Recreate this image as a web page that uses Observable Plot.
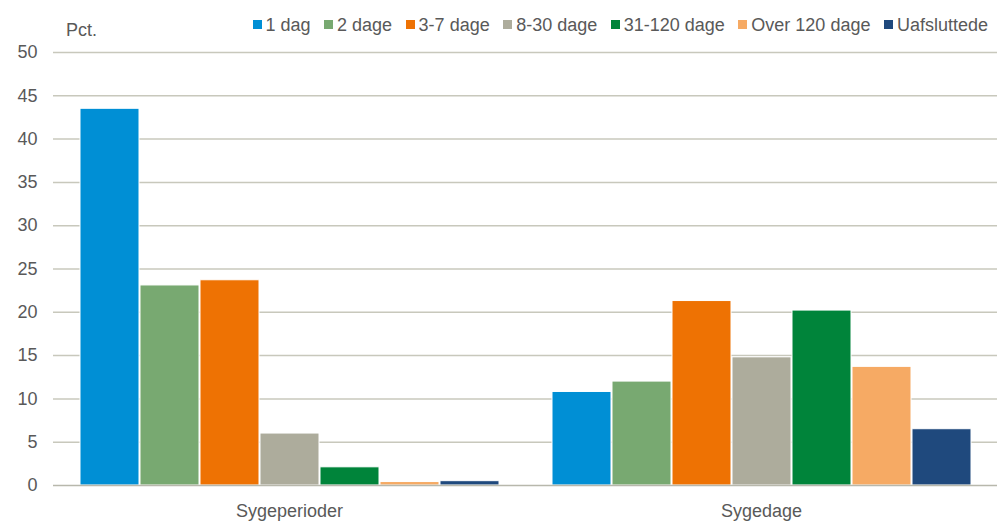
<!DOCTYPE html>
<html><head><meta charset="utf-8">
<script src="https://cdn.jsdelivr.net/npm/d3@7"></script>
<script src="https://cdn.jsdelivr.net/npm/@observablehq/plot@0.6"></script>
<style>
body{margin:0;background:#fff;font-family:"Liberation Sans",Arial,sans-serif;}
#wrap{position:relative;width:998px;height:523px;}
#legend{position:absolute;top:15px;right:10px;display:flex;gap:13.5px;font-size:18px;color:#595959;white-space:nowrap;}
#legend span.sw{display:inline-block;width:9px;height:9px;margin-right:4px;vertical-align:middle;position:relative;top:-2px;}
#ylab{position:absolute;left:66px;top:20px;font-size:18px;color:#595959;}
</style></head>
<body><div id="wrap"><div id="legend"></div><div id="ylab"></div><div id="chart"></div></div>
<script>
const groups = ["Sygeperioder", "Sygedage"];
const series = ["1 dag", "2 dage", "3-7 dage", "8-30 dage", "31-120 dage", "Over 120 dage", "Uafsluttede"];
const colors = ["#008fd5", "#78a971", "#ee7203", "#adac9c", "#00843a", "#f6aa64", "#1f497d"];
const sygeperioder = [43.5, 23.1, 23.7, 6.0, 2.1, 0.4, 0.5];
const sygedage = [10.8, 12.0, 21.3, 14.8, 20.2, 13.7, 6.5];
const yTicks = [0, 5, 10, 15, 20, 25, 30, 35, 40, 45, 50];
const yLabel = "Pct.";

const data = [];
series.forEach((s, i) => {
  data.push({group: groups[0], series: s, value: sygeperioder[i]});
  data.push({group: groups[1], series: s, value: sygedage[i]});
});

const legend = document.getElementById("legend");
series.forEach((s, i) => {
  const d = document.createElement("div");
  d.innerHTML = `<span class="sw" style="background:${colors[i]}"></span>${s}`;
  legend.appendChild(d);
});
document.getElementById("ylab").textContent = yLabel;

const chart = Plot.plot({
  width: 998,
  height: 523,
  marginTop: 52,
  marginBottom: 38,
  marginLeft: 53,
  marginRight: 1,
  style: {fontFamily: "Liberation Sans, Arial, sans-serif", fontSize: "18px", color: "#595959", background: "#fff"},
  fx: {domain: groups, padding: 0, label: null},
  x: {domain: series, paddingInner: 0.025, paddingOuter: 0.4, axis: null},
  y: {domain: [0, 50], ticks: yTicks, label: null},
  color: {domain: series, range: colors},
  marks: [
    Plot.ruleY(yTicks.filter(t => t > 0), {stroke: "#c8c8bc", strokeWidth: 1.5}),
    Plot.axisY({ticks: yTicks, tickSize: 0, tickPadding: 16, label: null, fill: "#595959"}),
    Plot.axisFx({anchor: "bottom", tickSize: 0, tickPadding: 19, label: null, fill: "#595959"}),
    Plot.barY(data, {fx: "group", x: "series", y: "value", fill: "series", stroke: "#fff", strokeWidth: 1}),
    Plot.ruleY([0], {stroke: "#b8b8ac", strokeWidth: 1.5})
  ]
});
document.getElementById("chart").appendChild(chart);
</script></body></html>
